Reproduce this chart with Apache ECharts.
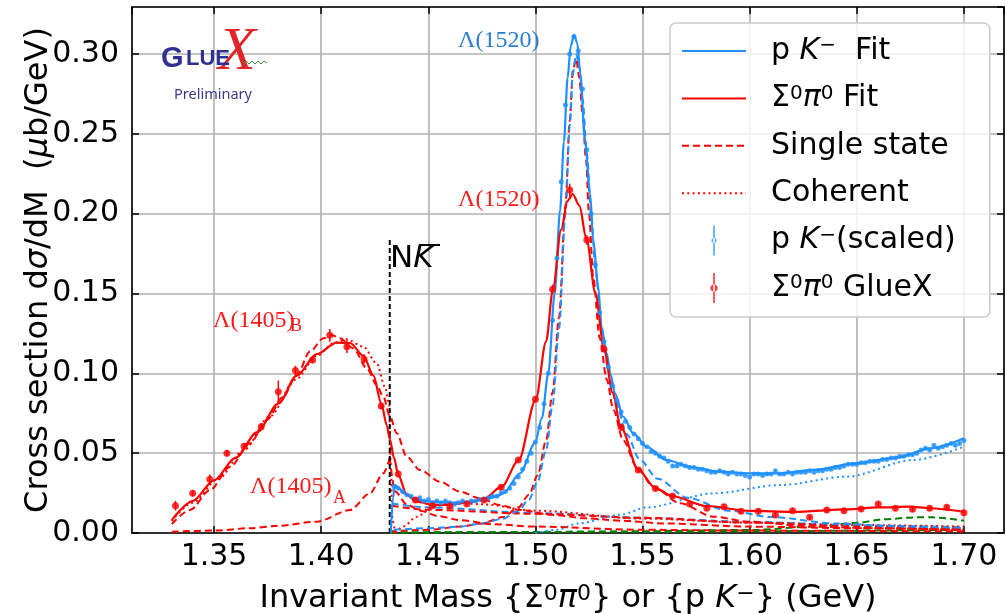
<!DOCTYPE html>
<html><head><meta charset="utf-8">
<script src="https://cdn.jsdelivr.net/npm/echarts@6/dist/echarts.min.js"></script>
<style>html,body{margin:0;padding:0;background:#fff}#c{width:1006px;height:614px}</style>
</head><body><div id="c"></div>
<script>
// ---------------- DATA ----------------
const xTickValues = [1.35, 1.40, 1.45, 1.50, 1.55, 1.60, 1.65, 1.70];
const yTickValues = [0.00, 0.05, 0.10, 0.15, 0.20, 0.25, 0.30];

// Sigma0 pi0 GlueX data
const redX = [1.332,1.340,1.348,1.356,1.364,1.372,1.380,1.388,1.396,1.404,1.412,1.420,1.428,1.436,1.444,1.452,1.460,1.468,1.476,1.484,1.492,1.500,1.508,1.516,1.524,1.532,1.540,1.548,1.556,1.564,1.572,1.580,1.588,1.596,1.604,1.612,1.620,1.628,1.636,1.644,1.652,1.660,1.668,1.676,1.684,1.692,1.700];
const redY = [0.0171,0.0249,0.0336,0.0499,0.0543,0.0666,0.0885,0.1017,0.1083,0.1238,0.1167,0.1090,0.0795,0.0370,0.0207,0.0171,0.0169,0.0182,0.0207,0.0286,0.0457,0.0837,0.1526,0.2148,0.1835,0.1152,0.0662,0.0395,0.0278,0.0232,0.0182,0.0155,0.0165,0.0136,0.0136,0.0113,0.0140,0.0098,0.0144,0.0140,0.0150,0.0182,0.0155,0.0148,0.0155,0.0161,0.0127];
const redErr = [0.003,0.002,0.003,0.002,0.002,0.002,0.007,0.003,0.002,0.004,0.004,0.003,0.002,0.002,0.0015,0.0015,0.0015,0.0015,0.0015,0.0015,0.0015,0.002,0.003,0.004,0.003,0.002,0.002,0.0015,0.0015,0.0015,0.0015,0.0015,0.0015,0.0015,0.0015,0.0015,0.0015,0.0015,0.0015,0.0015,0.0015,0.0015,0.0015,0.0015,0.0015,0.0015,0.0015];

// p K- (scaled) data
const blueX = [1.434,1.436,1.438,1.440,1.442,1.444,1.446,1.448,1.450,1.452,1.454,1.456,1.458,1.460,1.462,1.464,1.466,1.468,1.470,1.472,1.474,1.476,1.478,1.480,1.482,1.484,1.486,1.488,1.490,1.492,1.494,1.496,1.498,1.500,1.502,1.504,1.506,1.508,1.510,1.512,1.514,1.516,1.518,1.520,1.522,1.524,1.526,1.528,1.530,1.532,1.534,1.536,1.538,1.540,1.542,1.544,1.546,1.548,1.550,1.552,1.554,1.556,1.558,1.560,1.562,1.564,1.566,1.568,1.570,1.572,1.574,1.576,1.578,1.580,1.582,1.584,1.586,1.588,1.590,1.592,1.594,1.596,1.598,1.600,1.602,1.604,1.606,1.608,1.610,1.612,1.614,1.616,1.618,1.620,1.622,1.624,1.626,1.628,1.630,1.632,1.634,1.636,1.638,1.640,1.642,1.644,1.646,1.648,1.650,1.652,1.654,1.656,1.658,1.660,1.662,1.664,1.666,1.668,1.670,1.672,1.674,1.676,1.678,1.680,1.682,1.684,1.686,1.688,1.690,1.692,1.694,1.696,1.698,1.700];
const blueY = [0.029,0.028,0.026,0.024,0.023,0.021,0.022,0.020,0.021,0.019,0.020,0.019,0.020,0.019,0.018,0.019,0.020,0.019,0.020,0.020,0.021,0.021,0.022,0.023,0.023,0.025,0.026,0.028,0.031,0.035,0.040,0.045,0.050,0.057,0.066,0.081,0.100,0.133,0.172,0.220,0.268,0.300,0.311,0.302,0.278,0.240,0.200,0.168,0.138,0.120,0.104,0.092,0.083,0.076,0.070,0.066,0.062,0.059,0.056,0.054,0.051,0.050,0.048,0.047,0.045,0.042,0.042,0.043,0.042,0.041,0.041,0.040,0.040,0.039,0.038,0.038,0.039,0.038,0.037,0.038,0.037,0.037,0.036,0.035,0.037,0.037,0.036,0.037,0.037,0.039,0.037,0.037,0.038,0.037,0.038,0.038,0.038,0.039,0.038,0.039,0.039,0.040,0.040,0.041,0.041,0.042,0.043,0.043,0.043,0.044,0.044,0.045,0.045,0.045,0.046,0.046,0.047,0.047,0.048,0.048,0.049,0.049,0.050,0.052,0.053,0.052,0.055,0.053,0.054,0.055,0.056,0.055,0.056,0.058];
const blueErr = 0.0008;

// Fits
const redFitX = [1.3303,1.3400,1.3500,1.3600,1.3700,1.3800,1.3886,1.3979,1.4073,1.4135,1.4197,1.4244,1.4281,1.4306,1.4321,1.4340,1.4360,1.4399,1.4446,1.4521,1.4600,1.4684,1.4760,1.4842,1.4922,1.5001,1.5050,1.5081,1.5120,1.5150,1.5174,1.5205,1.5239,1.5280,1.5320,1.5360,1.5399,1.5480,1.5561,1.5641,1.5799,1.6000,1.6204,1.6453,1.6600,1.6748,1.6838,1.7000];
const redFitY = [0.0081,0.0200,0.0330,0.0470,0.0630,0.0810,0.0985,0.1120,0.1192,0.1190,0.1110,0.0985,0.0810,0.0675,0.0585,0.0470,0.0363,0.0240,0.0196,0.0176,0.0176,0.0190,0.0215,0.0290,0.0457,0.0833,0.1200,0.1520,0.1900,0.2080,0.2123,0.2050,0.1835,0.1500,0.1153,0.0880,0.0662,0.0395,0.0280,0.0230,0.0169,0.0138,0.0132,0.0148,0.0160,0.0165,0.0155,0.0133];
const blueFitX = [1.4325,1.4335,1.4345,1.4365,1.4383,1.4446,1.4523,1.4617,1.4700,1.4757,1.4820,1.4850,1.4928,1.4998,1.5030,1.5060,1.5090,1.5115,1.5133,1.5150,1.5165,1.5180,1.5195,1.5210,1.5231,1.5255,1.5270,1.5293,1.5309,1.5333,1.5351,1.5371,1.5410,1.5457,1.5519,1.5612,1.5721,1.5861,1.6001,1.6141,1.6297,1.6499,1.6686,1.6841,1.7000];
const blueFitY = [0.0000,0.0220,0.0300,0.0280,0.0249,0.0207,0.0195,0.0190,0.0197,0.0207,0.0230,0.0249,0.0374,0.0562,0.0720,0.1000,0.1500,0.2020,0.2450,0.2848,0.3050,0.3119,0.3070,0.2870,0.2460,0.2128,0.1825,0.1543,0.1282,0.1125,0.0990,0.0875,0.0728,0.0624,0.0540,0.0457,0.0415,0.0384,0.0374,0.0374,0.0395,0.0437,0.0472,0.0530,0.0593];

// Single-state components
const l1405bX = [1.3303,1.3388,1.3481,1.3575,1.3668,1.3746,1.3823,1.3886,1.3948,1.4010,1.4049,1.4088,1.4150,1.4213,1.4259,1.4290,1.4321,1.4353,1.4399,1.4461,1.4555,1.4648,1.4740,1.4835,1.4928,1.5080,1.5240,1.5400,1.5600,1.6000,1.6500,1.7000];
const l1405bY = [0.0056,0.0144,0.0269,0.0415,0.0562,0.0708,0.0854,0.0990,0.1136,0.1219,0.1240,0.1219,0.1157,0.1032,0.0927,0.0854,0.0729,0.0624,0.0478,0.0395,0.0321,0.0259,0.0217,0.0175,0.0144,0.0113,0.0092,0.0077,0.0060,0.0040,0.0030,0.0020];
const l1405aLowX = [1.3303,1.3500,1.3668,1.3800,1.3979,1.4135,1.4228,1.4290,1.4320];
const l1405aLowY = [0.0008,0.0015,0.0030,0.0045,0.0071,0.0144,0.0249,0.0374,0.0470];
const l1405aHighX = [1.4320,1.4345,1.4399,1.4460,1.4550,1.4650,1.4800,1.5000,1.5500,1.6000,1.7000];
const l1405aHighY = [0.0470,0.0260,0.0180,0.0140,0.0105,0.0080,0.0055,0.0040,0.0020,0.0015,0.0010];
const l1520RedX = [1.4320,1.4500,1.4650,1.4750,1.4850,1.4920,1.4970,1.5010,1.5050,1.5080,1.5110,1.5140,1.5160,1.5175,1.5190,1.5205,1.5220,1.5236,1.5250,1.5270,1.5300,1.5333,1.5364,1.5410,1.5473,1.5550,1.5675,1.5830,1.6000,1.6300,1.6600,1.7000];
const l1520RedY = [0.0010,0.0020,0.0040,0.0060,0.0100,0.0160,0.0240,0.0360,0.0580,0.0880,0.1350,0.2050,0.2580,0.2900,0.2970,0.2850,0.2620,0.2340,0.2000,0.1600,0.1220,0.0960,0.0770,0.0580,0.0415,0.0290,0.0186,0.0102,0.0070,0.0040,0.0030,0.0020];
const l1520BlueX = [1.4340,1.4500,1.4650,1.4750,1.4850,1.4920,1.4970,1.5010,1.5050,1.5080,1.5110,1.5140,1.5160,1.5175,1.5190,1.5205,1.5220,1.5240,1.5260,1.5280,1.5310,1.5340,1.5375,1.5425,1.5487,1.5570,1.5710,1.5900,1.6100,1.6400,1.6700,1.7000];
const l1520BlueY = [0.0020,0.0030,0.0040,0.0060,0.0090,0.0140,0.0210,0.0320,0.0520,0.0800,0.1280,0.2000,0.2550,0.2880,0.3000,0.2920,0.2720,0.2380,0.2000,0.1650,0.1280,0.1020,0.0820,0.0620,0.0460,0.0340,0.0220,0.0140,0.0100,0.0060,0.0040,0.0030];
const bgX = [1.4330,1.4500,1.5000,1.5500,1.6000,1.6500,1.7000];
const bgRedY = [0.0170,0.0145,0.0120,0.0095,0.0065,0.0040,0.0025];
const bgBlueY = [0.0185,0.0160,0.0125,0.0095,0.0070,0.0048,0.0035];
const greenX = [1.4320,1.5000,1.5430,1.6000,1.6311,1.6513,1.6622,1.6777,1.6855,1.7000];
const greenY = [0.0003,0.0006,0.0010,0.0019,0.0040,0.0065,0.0086,0.0098,0.0098,0.0077];
const green2X = [1.4320,1.5500,1.7000];
const green2Y = [0.0002,0.0008,0.0020];

// Coherent
const cohRedAX = [1.3303,1.3400,1.3520,1.3640,1.3760,1.3880,1.3980,1.4060,1.4119,1.4197,1.4259,1.4298,1.4318,1.4325,1.4333,1.4345];
const cohRedAY = [0.0075,0.0190,0.0340,0.0520,0.0730,0.0960,0.1110,0.1190,0.1213,0.1167,0.1063,0.0916,0.0800,0.0400,0.0080,0.0000];
const cohRedBX = [1.4345,1.4383,1.4446,1.4523,1.4620,1.4750,1.5000,1.5500,1.6000,1.6500,1.7000];
const cohRedBY = [0.0000,0.0040,0.0102,0.0165,0.0190,0.0180,0.0140,0.0090,0.0065,0.0050,0.0040];
const cohBlueX = [1.5000,1.5100,1.5200,1.5400,1.5519,1.5830,1.6141,1.6453,1.6763,1.7000];
const cohBlueY = [0.0000,0.0020,0.0060,0.0115,0.0160,0.0248,0.0300,0.0353,0.0457,0.0540];

const thresholdX = [1.432, 1.432];
const thresholdY = [0.0, 0.1835];

// ---------------- CHART ----------------
const FONT = 'DejaVu Sans';
const RED = '#ff0000', BLUE = '#1e90ff', GREEN = '#008000';
const xMin = 1.3117, xMax = 1.7187, yMin = 0, yMax = 0.3294;
const zip = (xs, ys) => xs.map((x, i) => [x, ys[i]]);
const DASH = [7, 4], DOT = [2, 3.3];

function curve(name, xs, ys, color, type, width, z, smooth) {
  return {
    name, type: 'line', data: zip(xs, ys), symbol: 'none', showSymbol: false,
    smooth: smooth === undefined ? 0.3 : smooth, smoothMonotone: 'x',
    lineStyle: { color, width, type, cap: 'butt' }, itemStyle: { color },
    z, silent: true, clip: true, animation: false
  };
}
function errBars(name, xs, ys, errs, color, lw) {
  return {
    name, type: 'custom', z: 6, silent: true, clip: true,
    data: xs.map((x, i) => [x, ys[i], Array.isArray(errs) ? errs[i] : errs]),
    encode: { x: 0, y: 1 },
    renderItem: (params, api) => {
      const x = api.value(0), y = api.value(1), e = api.value(2);
      const a = api.coord([x, y - e]), b = api.coord([x, y + e]);
      return { type: 'line', shape: { x1: a[0], y1: a[1], x2: b[0], y2: b[1] },
               style: { stroke: color, lineWidth: lw } };
    }
  };
}

const labels = {
  'pK Fit': '{g| }p {i|K}{sup|−}  Fit',
  'SP Fit': '{g| }Σ{sup|0}{i|π}{sup|0} Fit',
  'Single state': '{g| }Single state',
  'Coherent': '{g| }Coherent',
  'pK data': '{g| }p {i|K}{sup|−}(scaled)',
  'SP data': '{g| }Σ{sup|0}{i|π}{sup|0} GlueX'
};
const richSet = (fs) => ({
  g: { width: 20 },
  i: { fontStyle: 'italic', fontFamily: FONT, fontSize: fs, lineHeight: fs, color: '#000' },
  sup: { fontFamily: FONT, fontSize: Math.round(fs * 0.68), lineHeight: Math.round(fs * 0.47), verticalAlign: 'top', color: '#000' }
});

const axisCommon = {
  axisLine: { show: true, onZero: false, lineStyle: { color: '#000', width: 1.6 } },
  axisTick: { show: true, inside: true, length: 7, lineStyle: { color: '#000', width: 1.5 } }
};
const noMarker = { color: 'rgba(0,0,0,0)', borderColor: 'rgba(0,0,0,0)', borderWidth: 0, opacity: 0 };

const option = {
  animation: false,
  backgroundColor: '#fff',
  grid: { left: 132, right: 2, top: 7, bottom: 81, containLabel: false, outerBoundsMode: 'none' },
  xAxis: [
    Object.assign({}, axisCommon, {
      type: 'value', min: xMin, max: xMax, minInterval: 0.05, maxInterval: 0.05, splitNumber: 8,
      axisLabel: { fontSize: 30, fontFamily: FONT, color: '#000', margin: 9,
                   showMinLabel: false, showMaxLabel: false,
                   formatter: v => xTickValues.some(t => Math.abs(t - v) < 1e-6) ? v.toFixed(2) : '' },
      splitLine: { show: true, lineStyle: { color: '#b0b0b0', width: 1.6 } },
      name: 'Invariant Mass {Σ{sup|0}{i|π}{sup|0}} or {p {i|K}{sup|−}} (GeV)',
      nameLocation: 'middle', nameGap: 50, nameMoveOverlap: false,
      nameTextStyle: { fontSize: 32, lineHeight: 32, fontFamily: FONT, color: '#000', rich: richSet(32) }
    }),
    Object.assign({}, axisCommon, {
      type: 'value', position: 'top', min: xMin, max: xMax, minInterval: 0.05, maxInterval: 0.05, splitNumber: 8,
      axisLabel: { show: false }, splitLine: { show: false }
    })
  ],
  yAxis: [
    Object.assign({}, axisCommon, {
      type: 'value', min: yMin, max: yMax, interval: 0.05,
      axisLabel: { fontSize: 30, fontFamily: FONT, color: '#000', margin: 13, showMaxLabel: false,
                   formatter: v => yTickValues.some(t => Math.abs(t - v) < 1e-6) ? v.toFixed(2) : '' },
      splitLine: { show: true, lineStyle: { color: '#b0b0b0', width: 1.6 } },
      name: 'Cross section d{i|σ}/dM  ({i|μ}b/GeV)',
      nameLocation: 'middle', nameGap: 77, nameRotate: 90, nameMoveOverlap: false,
      nameTextStyle: { fontSize: 32, lineHeight: 32, fontFamily: FONT, color: '#000', rich: richSet(32) }
    }),
    Object.assign({}, axisCommon, {
      type: 'value', position: 'right', min: yMin, max: yMax, interval: 0.05,
      axisLabel: { show: false }, splitLine: { show: false }
    })
  ],
  legend: {
    orient: 'vertical', left: 670, top: 23,
    padding: [13, 34, 14, 11],
    itemWidth: 64, itemHeight: 30, itemGap: 17.4,
    symbolKeepAspect: true, selectedMode: false,
    backgroundColor: 'rgba(255,255,255,0.8)', borderColor: '#cccccc', borderWidth: 1.5, borderRadius: 6,
    formatter: n => labels[n] || n,
    textStyle: { fontFamily: FONT, fontSize: 30, color: '#000', lineHeight: 30, rich: richSet(30) },
    data: [
      { name: 'pK Fit', itemStyle: noMarker }, { name: 'SP Fit', itemStyle: noMarker },
      { name: 'Single state', itemStyle: noMarker }, { name: 'Coherent', itemStyle: noMarker },
      { name: 'pK data', icon: 'path://M2.2,0 L3.8,0 L3.8,30 L2.2,30 Z M0.5,15 A2.5,2.5 0 1,0 5.5,15 A2.5,2.5 0 1,0 0.5,15 Z' },
      { name: 'SP data', icon: 'path://M2.2,0 L3.8,0 L3.8,30 L2.2,30 Z M-0.5,15 A3.5,3.5 0 1,0 6.5,15 A3.5,3.5 0 1,0 -0.5,15 Z' }
    ]
  },
  graphic: [
    { type: 'text', left: 458, top: 29, z: 50, style: { text: 'Λ(1520)', fill: '#2a7ed2', font: '24px "Liberation Serif"' } },
    { type: 'text', left: 458, top: 188, z: 50, style: { text: 'Λ(1520)', fill: '#ff1a1a', font: '24px "Liberation Serif"' } },
    { type: 'text', left: 213, top: 309, z: 50, style: { text: 'Λ(1405)', fill: '#ff1a1a', font: '24px "Liberation Serif"' } },
    { type: 'text', left: 290, top: 317, z: 50, style: { text: 'B', fill: '#ff1a1a', font: '18px "Liberation Serif"' } },
    { type: 'text', left: 250, top: 475, z: 50, style: { text: 'Λ(1405)', fill: '#ff1a1a', font: '24px "Liberation Serif"' } },
    { type: 'text', left: 333, top: 489, z: 50, style: { text: 'A', fill: '#ff1a1a', font: '18px "Liberation Serif"' } },
    { type: 'text', left: 390, top: 243, z: 50, style: { text: 'N{i|K}', fill: '#000', font: '31px "DejaVu Sans"',
      rich: { i: { fontStyle: 'italic', fontFamily: FONT, fontSize: 31, fill: '#000' } } } },
    { type: 'line', z: 50, shape: { x1: 419, y1: 245, x2: 440, y2: 245 }, style: { stroke: '#000', lineWidth: 2 } },
    // logo
    { type: 'text', left: 161, top: 44, z: 50, style: { text: 'G', fill: '#2e3192', font: 'bold 29px "Liberation Sans"' } },
    { type: 'text', left: 186, top: 48, z: 50, style: { text: 'LUE', fill: '#2e3192', font: 'bold 22px "Liberation Sans"' } },
    { type: 'text', left: 218, top: 22, z: 49, style: { text: 'X', fill: '#e0262b', font: 'italic 62px "Liberation Serif"' } },
    { type: 'polyline', z: 51, shape: { points: [[243,63],[246,61],[249,64],[252,61],[255,64],[258,61],[261,64],[264,61],[267,63]] },
      style: { stroke: '#3a9a3a', lineWidth: 1, fill: null } },
    { type: 'text', left: 174, top: 87, z: 50, style: { text: 'Preliminary', fill: '#3a3a8c', font: '14.5px "Noto Sans"' } }
  ],
  series: [
    curve('g1', greenX, greenY, GREEN, DASH, 2, 2),
    curve('g2', green2X, green2Y, GREEN, DASH, 2, 2),
    curve('bgb', bgX, bgBlueY, BLUE, DASH, 2, 2),
    curve('bgr', bgX, bgRedY, RED, DASH, 2, 2),
    curve('Coherent', cohRedAX, cohRedAY, RED, DOT, 2, 3),
    curve('cohRB', cohRedBX, cohRedBY, RED, DOT, 2, 3),
    curve('cohB', cohBlueX, cohBlueY, BLUE, DOT, 2, 3),
    curve('Single state', l1520RedX, l1520RedY, RED, DASH, 2, 3),
    curve('l1520b', l1520BlueX, l1520BlueY, BLUE, DASH, 2, 3),
    curve('l1405b', l1405bX, l1405bY, RED, DASH, 2, 3),
    curve('l1405aL', l1405aLowX, l1405aLowY, RED, DASH, 2, 3),
    curve('l1405aH', l1405aHighX, l1405aHighY, RED, DASH, 2, 3),
    curve('thr', thresholdX, thresholdY, '#000', [5, 3], 2, 4, false),
    curve('pK Fit', blueFitX, blueFitY, BLUE, 'solid', 2.2, 4),
    curve('SP Fit', redFitX, redFitY, RED, 'solid', 2.2, 5),
    errBars('pKerr', blueX, blueY, blueErr, BLUE, 1.2),
    { name: 'pK data', type: 'scatter', data: zip(blueX, blueY), symbol: 'circle', symbolSize: 5,
      itemStyle: { color: BLUE }, z: 6, silent: true },
    errBars('SPerr', redX, redY, redErr, RED, 1.5),
    { name: 'SP data', type: 'scatter', data: zip(redX, redY), symbol: 'circle', symbolSize: 7,
      itemStyle: { color: RED }, z: 7, silent: true }
  ]
};

const chart = echarts.init(document.getElementById('c'), null, { renderer: 'canvas' });
chart.setOption(option);
</script>
</body></html>
